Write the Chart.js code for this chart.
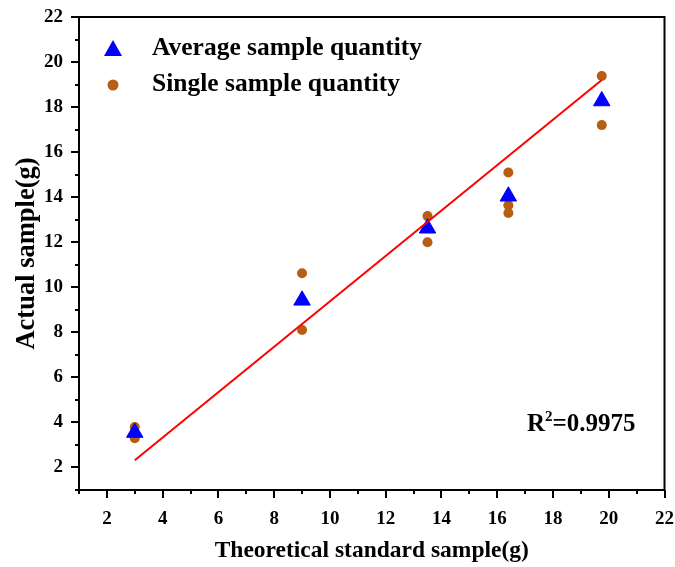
<!DOCTYPE html>
<html>
<head>
<meta charset="utf-8">
<script src="https://cdn.jsdelivr.net/npm/chart.js@4.4.1/dist/chart.umd.min.js"></script>
<style>
  html, body { margin: 0; padding: 0; background: #fff; }
  #wrap { width: 675px; height: 567px; }
</style>
</head>
<body>
<div id="wrap"><canvas id="myChart" width="675" height="567"></canvas></div>
<script>
// theoretical sample (x) for each group
const theoretical = [3.0, 9.0, 13.5, 16.4, 19.75]
// average actual sample per group
const averageValues = [3.55, 9.42, 12.62, 14.04, 18.27]
// single measurements (x, y)
const singleX = [3.0, 3.0, 9.0, 9.0, 13.5, 13.5, 16.4, 16.4, 16.4, 19.75, 19.75]
const singleY = [3.8, 3.3, 10.62, 8.1, 13.16, 12.0, 15.1, 13.64, 13.3, 19.38, 17.2]
// fitted line end points
const fitX = [3.0, 19.75]
const fitY = [2.32, 19.2]
const r2Text = '0.9975'

const brown = 'rgb(181, 94, 20)'
const blue = 'rgb(0, 0, 255)'
const serif = '"Liberation Serif", "Times New Roman", serif'

const toPoints = (xs, ys) => xs.map((x, i) => ({ x: x, y: ys[i] }))

// draws minor/major ticks, frame, legend and R² label
const decorations = {
    id: 'decorations',
    afterDraw(chart) {
        const ctx = chart.ctx
        const area = chart.chartArea
        const xs = chart.scales.x
        const ys = chart.scales.y
        ctx.save()
        ctx.strokeStyle = '#000'
        ctx.lineWidth = 2
        for (let v = 1; v <= 22; v++) {
            const len = v % 2 === 0 ? 8 : 4
            const px = Math.round(xs.getPixelForValue(v))
            ctx.beginPath()
            ctx.moveTo(px, area.bottom)
            ctx.lineTo(px, area.bottom + len)
            ctx.stroke()
            const py = Math.round(ys.getPixelForValue(v))
            ctx.beginPath()
            ctx.moveTo(area.left, py)
            ctx.lineTo(area.left - len, py)
            ctx.stroke()
        }
        // frame
        ctx.strokeRect(area.left, area.top, area.right - area.left, area.bottom - area.top)

        // legend
        ctx.fillStyle = blue
        ctx.beginPath()
        ctx.moveTo(113, 40)
        ctx.lineTo(122, 56)
        ctx.lineTo(104, 56)
        ctx.closePath()
        ctx.fill()
        ctx.fillStyle = brown
        ctx.beginPath()
        ctx.arc(113, 85, 5.5, 0, Math.PI * 2)
        ctx.fill()
        ctx.fillStyle = '#000'
        ctx.font = 'bold 25.5px ' + serif
        ctx.textBaseline = 'middle'
        ctx.fillText('Average sample quantity', 152, 48)
        ctx.fillText('Single sample quantity', 152, 84)

        // R² label
        ctx.font = 'bold 25px ' + serif
        let x = 527
        ctx.fillText('R', x, 425)
        x += ctx.measureText('R').width
        ctx.font = 'bold 15px ' + serif
        ctx.fillText('2', x, 417)
        x += ctx.measureText('2').width
        ctx.font = 'bold 25px ' + serif
        ctx.fillText('=' + r2Text, x, 425)
        ctx.restore()
    }
}

const myChart = document.getElementById('myChart').getContext('2d')
const chart = new Chart(myChart, {
    type: 'scatter',
    data: {
        datasets: [{
            type: 'line',
            label: 'Fit',
            data: toPoints(fitX, fitY),
            borderColor: 'rgb(255, 0, 0)',
            borderWidth: 2,
            pointRadius: 0,
            fill: false
        }, {
            label: 'Average sample quantity',
            data: toPoints(theoretical, averageValues),
            pointStyle: 'triangle',
            pointRadius: 9.5,
            backgroundColor: blue,
            borderColor: blue,
            borderWidth: 1
        }, {
            label: 'Single sample quantity',
            data: toPoints(singleX, singleY),
            pointStyle: 'circle',
            pointRadius: 5,
            backgroundColor: brown,
            borderColor: brown,
            borderWidth: 0
        }]
    },
    options: {
        responsive: false,
        animation: false,
        layout: { padding: { top: 17, right: 8, left: 0, bottom: 0 } },
        plugins: {
            legend: { display: false },
            tooltip: { enabled: false }
        },
        scales: {
            x: {
                type: 'linear',
                min: 1,
                max: 22,
                afterFit: scale => {
                    scale.height = 77
                    scale.paddingLeft = 0
                    scale.paddingRight = 0
                },
                grid: { display: false, drawTicks: false },
                border: { display: true, color: '#000', width: 2 },
                ticks: {
                    stepSize: 1,
                    autoSkip: false,
                    maxRotation: 0,
                    padding: 18,
                    color: '#000',
                    font: { family: serif, size: 19, weight: 'bold' },
                    callback: v => (v % 2 === 0 ? v : '')
                },
                title: {
                    display: true,
                    text: 'Theoretical standard sample(g)',
                    color: '#000',
                    font: { family: serif, size: 23.5, weight: 'bold' },
                    padding: { top: 0, bottom: 2 }
                }
            },
            y: {
                type: 'linear',
                min: 1,
                max: 22,
                afterFit: scale => {
                    scale.width = 79
                    scale.paddingTop = 0
                    scale.paddingBottom = 0
                },
                grid: { display: false, drawTicks: false },
                border: { display: true, color: '#000', width: 2 },
                ticks: {
                    stepSize: 1,
                    autoSkip: false,
                    padding: 16,
                    color: '#000',
                    font: { family: serif, size: 19, weight: 'bold' },
                    callback: v => (v % 2 === 0 ? v : '')
                },
                title: {
                    display: true,
                    text: 'Actual sample(g)',
                    color: '#000',
                    font: { family: serif, size: 26.5, weight: 'bold' },
                    padding: { top: 11, bottom: 0 }
                }
            }
        }
    },
    plugins: [decorations]
})
</script>
</body>
</html>
